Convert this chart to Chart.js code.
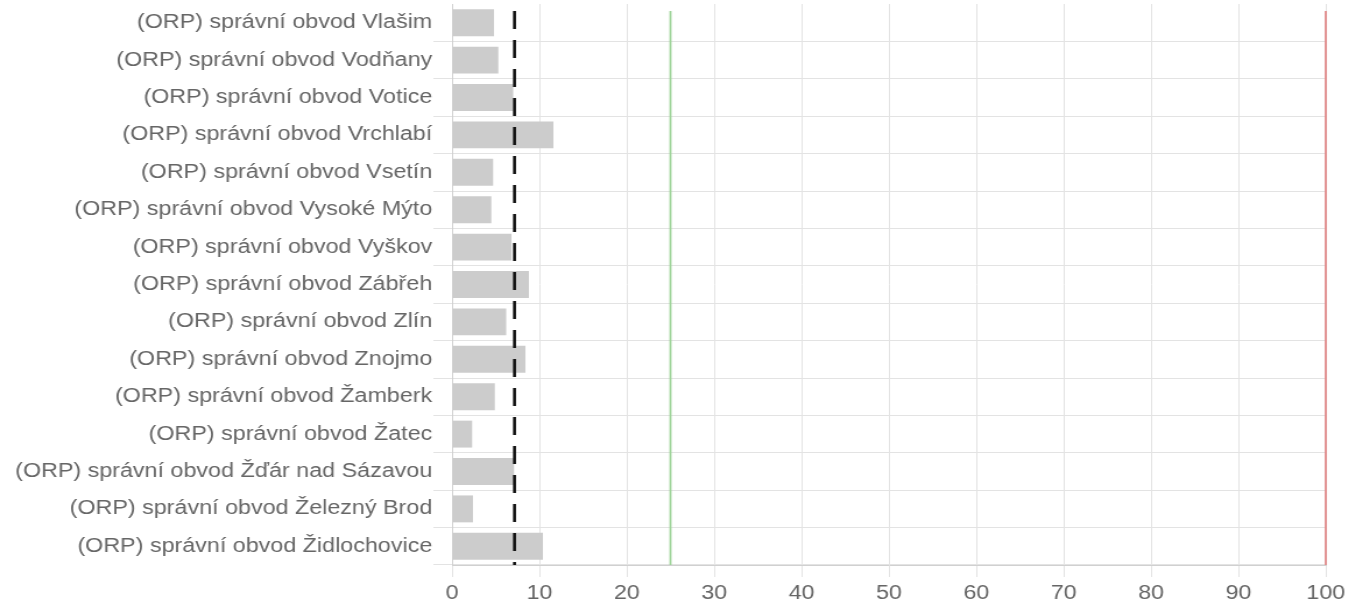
<!DOCTYPE html>
<html>
<head>
<meta charset="utf-8">
<script src="https://cdn.jsdelivr.net/npm/chart.js@4"></script>
<style>
  html, body { margin: 0; padding: 0; background: #fff; overflow: hidden; }
  #wrap { width: 1352px; height: 612px; overflow: hidden; }
  /* the reference is rendered slightly stretched horizontally */
  #orpChart { transform: scaleX(1.165); transform-origin: 0 0; }
</style>
</head>
<body>
<div id="wrap"><canvas id="orpChart" width="1160" height="612"></canvas></div>
<script>
// Categories and values
const categories = [
    '(ORP) správní obvod Vlašim',
    '(ORP) správní obvod Vodňany',
    '(ORP) správní obvod Votice',
    '(ORP) správní obvod Vrchlabí',
    '(ORP) správní obvod Vsetín',
    '(ORP) správní obvod Vysoké Mýto',
    '(ORP) správní obvod Vyškov',
    '(ORP) správní obvod Zábřeh',
    '(ORP) správní obvod Zlín',
    '(ORP) správní obvod Znojmo',
    '(ORP) správní obvod Žamberk',
    '(ORP) správní obvod Žatec',
    '(ORP) správní obvod Žďár nad Sázavou',
    '(ORP) správní obvod Železný Brod',
    '(ORP) správní obvod Židlochovice'
];
const values = [4.8, 5.3, 7.0, 11.6, 4.7, 4.5, 6.8, 8.8, 6.2, 8.4, 4.9, 2.3, 7.1, 2.4, 10.4];
const averageValue = 7.15;
const targetValue = 25;
const maxValue = 100;
const xTicks = [0, 10, 20, 30, 40, 50, 60, 70, 80, 90, 100];

// vertical reference lines drawn through the x scale
const refLinesPlugin = {
    id: 'refLines',
    afterDatasetsDraw(chart, args, opts) {
        const { ctx, chartArea, scales } = chart;
        opts.lines.forEach(line => {
            const x = scales.x.getPixelForValue(line.value);
            ctx.save();
            ctx.beginPath();
            ctx.strokeStyle = line.color;
            ctx.lineWidth = line.width;
            ctx.setLineDash(line.dash || []);
            ctx.moveTo(x, chartArea.top + 7);
            ctx.lineTo(x, chartArea.bottom);
            ctx.stroke();
            ctx.restore();
        });
    }
};

const tickFont = { family: 'Liberation Sans', size: 20 };

const ctx = document.getElementById('orpChart').getContext('2d');
new Chart(ctx, {
    type: 'bar',
    data: {
        labels: categories,
        datasets: [{
            data: values,
            backgroundColor: '#cccccc',
            borderWidth: 0
        }]
    },
    options: {
        indexAxis: 'y',
        responsive: false,
        animation: false,
        layout: { autoPadding: false, padding: { top: 4, left: 12, right: 22, bottom: 3 } },
        scales: {
            x: {
                min: 0,
                max: 100,
                afterBuildTicks: axis => { axis.ticks = xTicks.map(v => ({ value: v })); },
                grid: { color: '#e3e3e3', tickLength: 12 },
                border: { color: '#d0d0d0' },
                ticks: { color: '#666', padding: 4, font: tickFont }
            },
            y: {
                afterFit: scale => { scale.paddingTop = 0; scale.paddingBottom = 0; },
                grid: {
                    color: c => c.index === 0 ? 'rgba(0,0,0,0)' : '#e3e3e3',
                    tickLength: 16
                },
                border: { color: '#d0d0d0' },
                ticks: { color: '#666', padding: 1, font: tickFont }
            }
        },
        plugins: {
            legend: { display: false },
            tooltip: { enabled: false },
            refLines: {
                lines: [
                    { value: averageValue, color: '#111', width: 2.6, dash: [18, 11] },
                    { value: targetValue, color: '#9fd49a', width: 1.8 },
                    { value: maxValue, color: '#e08a8a', width: 1.8 }
                ]
            }
        }
    },
    plugins: [refLinesPlugin]
});
</script>
</body>
</html>
